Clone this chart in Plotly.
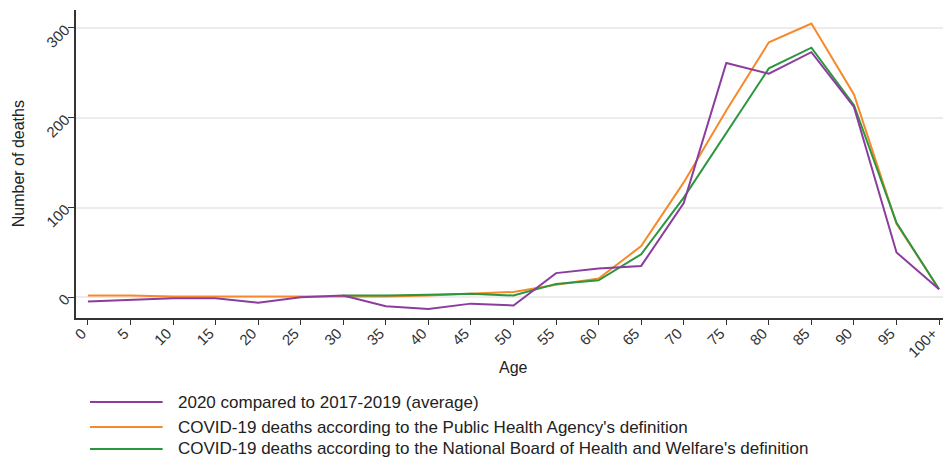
import plotly.graph_objects as go

age_labels = ["0", "5", "10", "15", "20", "25", "30", "35", "40", "45", "50",
              "55", "60", "65", "70", "75", "80", "85", "90", "95", "100+"]

excess_2020 = [-4.5, -3, -1, -1, -6, 0, 2, -10, -13, -7, -9,
               27, 32, 35, 105, 261, 249, 273, 212, 50, 9]
pha_deaths = [2, 2, 1, 1, 1, 1, 1, 1, 2, 4, 6,
              14, 21, 57, 128, 208, 284, 305, 226, 82, 9]
nbhw_deaths = [None, None, None, None, None, None, 2, 2, 3, 4, 2,
               15, 19, 48, 111, 183, 255, 278, 214, 83, 9]

series_names = [
    "2020 compared to 2017-2019 (average)",
    "COVID-19 deaths according to the Public Health Agency's definition",
    "COVID-19 deaths according to the National Board of Health and Welfare's definition",
]
colors = ["#8b3d9e", "#f7892a", "#2a973f"]

x = list(range(len(age_labels)))
fig = go.Figure()

# draw order: orange, then green, then purple on top
traces = [(pha_deaths, series_names[1], colors[1]),
          (nbhw_deaths, series_names[2], colors[2]),
          (excess_2020, series_names[0], colors[0])]
for vals, name, col in traces:
    fig.add_trace(go.Scatter(x=x, y=vals, mode="lines", name=name,
                             line=dict(color=col, width=2), showlegend=False))

# manual legend (below the plot area)
legend_y = [-0.273, -0.354, -0.425]
for (name, col, yy) in zip(series_names, colors, legend_y):
    fig.add_shape(type="line", xref="paper", yref="paper",
                  x0=0.016, x1=0.099, y0=yy, y1=yy,
                  line=dict(color=col, width=2))
    fig.add_annotation(xref="paper", yref="paper", x=0.114, y=yy,
                       text=name, showarrow=False, xanchor="left", yanchor="middle",
                       font=dict(size=17, color="#222"))

# axis titles
fig.add_annotation(xref="paper", yref="paper", x=0.5, y=-0.162,
                   text="Age", showarrow=False, xanchor="center", yanchor="middle",
                   font=dict(size=16, color="#222"))
fig.add_annotation(xref="paper", yref="paper", x=-0.066, y=0.5,
                   text="Number of deaths", showarrow=False, textangle=-90,
                   xanchor="center", yanchor="middle",
                   font=dict(size=16, color="#222"))

# the page adds an 8px body margin, so the figure is sized to end at the window edge
fig.update_layout(
    width=943, height=452,
    margin=dict(l=68, r=0, t=2, b=142),
    paper_bgcolor="white", plot_bgcolor="white",
    font=dict(family="Liberation Sans, Arial, sans-serif", color="#333", size=15),
)
fig.update_xaxes(
    tickmode="array", tickvals=x, ticktext=age_labels, tickangle=-45,
    range=[-0.28, 20.28], showgrid=False, zeroline=False, automargin=False,
    showline=True, linecolor="#333", linewidth=1.5,
    ticks="outside", ticklen=5, tickcolor="#333",
    ticklabelshift=-6, ticklabelstandoff=-6,
)
fig.update_yaxes(
    tickmode="array", tickvals=[0, 100, 200, 300], tickangle=-45,
    range=[-23, 320], showgrid=True, gridcolor="#ececec", gridwidth=1.5,
    zeroline=False, showline=True, linecolor="#333", linewidth=1.5, automargin=False,
    ticks="outside", ticklen=6, tickcolor="#333",
)

fig.write_html("out.html")
